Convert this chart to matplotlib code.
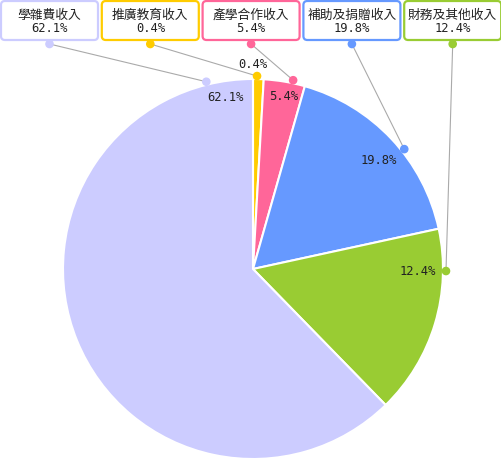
import numpy as np
import matplotlib
matplotlib.use('Agg')
import matplotlib.pyplot as plt
from matplotlib.patches import FancyBboxPatch, Circle

plt.rcParams['font.family'] = ['Noto Sans CJK TC', 'DejaVu Sans']

# legend boxes (left to right)
names = ['學雜費收入', '推廣教育收入', '產學合作收入', '補助及捐贈收入', '財務及其他收入']
pct_labels = [62.1, 0.4, 5.4, 19.8, 12.4]
colors = ['#CCCCFF', '#FFCC00', '#FF6699', '#6699FF', '#99CC33']

# slice sizes as drawn in the picture, clockwise from 12 o'clock
slice_order = [1, 2, 3, 4, 0]
slice_share = [0.9, 3.5, 17.2, 16.1, 62.3]

W, H = 502, 463
cx, cy, R = 253, 269, 190
num_font = dict(family='DejaVu Sans Mono', fontsize=8.7, color='#222222')


def Y(y):
    return H - y


def polar(ang, r):
    # angle in degrees clockwise from top, pixel coords
    a = np.radians(ang)
    return cx + r * np.sin(a), cy - r * np.cos(a)


fig = plt.figure(figsize=(W / 100, H / 100), dpi=100)
ax = fig.add_axes([0, 0, 1, 1])

ax.pie(slice_share, colors=[colors[i] for i in slice_order], startangle=90,
       counterclock=False, center=(cx, Y(cy)), radius=R,
       wedgeprops=dict(edgecolor='white', linewidth=1.5))

ax.set_xlim(0, W)
ax.set_ylim(0, H)
ax.set_aspect('auto')
ax.axis('off')

# anchor dots on the rim and the labels inside (angle, radius)
anchor_ang = [-14, 1.2, 12, 51.6, 90.6]
text_pos = [(-9, 174), (0, 205), (10, 175), (49.4, 166), (90.7, 165)]

box_w, box_h = 97, 39
for i, name in enumerate(names):
    x0 = 1 + i * 100.8
    box = FancyBboxPatch((x0, Y(1 + box_h)), box_w, box_h,
                         boxstyle='round,pad=0,rounding_size=4',
                         facecolor='white', edgecolor=colors[i], linewidth=1.6)
    ax.add_patch(box)
    bx = x0 + box_w / 2
    ax.text(bx, Y(15), name, ha='center', va='center', fontsize=9.2, color='#222222')
    ax.text(bx, Y(29), f'{pct_labels[i]}%', ha='center', va='center', **num_font)

    px, py = polar(anchor_ang[i], 193)
    ax.plot([bx, px], [Y(44), Y(py)], color='#aaaaaa', linewidth=0.8, zorder=3)
    ax.add_patch(Circle((bx, Y(44)), 3.6, color=colors[i], zorder=4))
    ax.add_patch(Circle((px, Y(py)), 3.6, color=colors[i], zorder=4))

    tx, ty = polar(*text_pos[i])
    ax.text(tx, Y(ty), f'{pct_labels[i]}%', ha='center', va='center', zorder=5, **num_font)

fig.savefig('out.png', dpi=100)
